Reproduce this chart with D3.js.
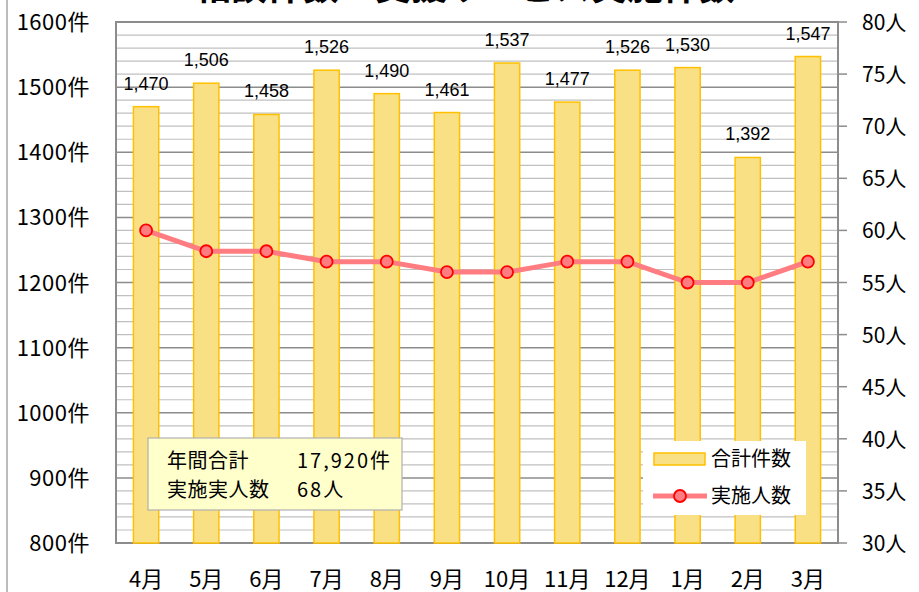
<!DOCTYPE html>
<html>
<head>
<meta charset="utf-8">
<script src="https://cdn.jsdelivr.net/npm/d3@7"></script>
<style>
  body { margin: 0; background: #fff; }
  svg { display: block; }
  text { font-family: "Noto Sans CJK JP", "Noto Sans", sans-serif; fill: #000; }
  .num { font-family: "Liberation Sans", "Noto Sans CJK JP", sans-serif; }
</style>
</head>
<body>
<div id="chart"></div>
<script>
// data
var months = ["4月", "5月", "6月", "7月", "8月", "9月", "10月", "11月", "12月", "1月", "2月", "3月"];
var totalCases = [1470, 1506, 1458, 1526, 1490, 1461, 1537, 1477, 1526, 1530, 1392, 1547];
var persons = [60, 58, 58, 57, 57, 56, 56, 57, 57, 55, 55, 57];
var leftTicks = [800, 900, 1000, 1100, 1200, 1300, 1400, 1500, 1600];
var rightTicks = [30, 35, 40, 45, 50, 55, 60, 65, 70, 75, 80];
var summaryLines = [["年間合計", "17,920件"], ["実施実人数", "68人"]];
var legendNames = ["合計件数", "実施人数"];
var titleText = "相談件数・支援サービス実施件数";

(function() {
  var width = 919,
      height = 592;

  var plotLeft = 116, plotRight = 838, plotTop = 22, plotBottom = 543;

  var svg = d3.select("#chart").append("svg")
      .attr("width", width)
      .attr("height", height);

  // outer frame edge
  svg.append("line")
    .attr("x1", 7).attr("x2", 7).attr("y1", 0).attr("y2", height)
    .attr("stroke", "#a6a6a6").attr("stroke-width", 1.5);

  // title, mostly cut off at the top
  svg.append("text")
    .attr("x", 465).attr("y", 0)
    .attr("text-anchor", "middle")
    .style("font-size", "36px")
    .style("font-weight", "bold")
    .text(titleText);

  var x = d3.scaleBand()
    .domain(months)
    .range([plotLeft, plotRight])
    .paddingInner(0.58)
    .paddingOuter(0.29);

  var yLeft = d3.scaleLinear().domain([800, 1600]).range([plotBottom, plotTop]);
  var yRight = d3.scaleLinear().domain([30, 80]).range([plotBottom, plotTop]);

  // gridlines, minor every 20件
  var minor = d3.range(800, 1601, 20);
  svg.selectAll(".grid")
    .data(minor)
    .enter().append("line")
    .attr("class", "grid")
    .attr("x1", plotLeft).attr("x2", plotRight)
    .attr("y1", function(d) { return yLeft(d); })
    .attr("y2", function(d) { return yLeft(d); })
    .attr("stroke", function(d) { return d % 100 === 0 ? "#8c8c8c" : "#c0c0c0"; })
    .attr("stroke-width", function(d) { return d % 100 === 0 ? 1.5 : 1.2; });

  // plot frame
  svg.append("rect")
    .attr("x", plotLeft).attr("y", plotTop)
    .attr("width", plotRight - plotLeft).attr("height", plotBottom - plotTop)
    .attr("fill", "none")
    .attr("stroke", "#8c8c8c")
    .attr("stroke-width", 2);

  // right axis tick marks
  svg.selectAll(".rtick")
    .data(rightTicks)
    .enter().append("line")
    .attr("x1", plotRight).attr("x2", plotRight + 9)
    .attr("y1", function(d) { return yRight(d); })
    .attr("y2", function(d) { return yRight(d); })
    .attr("stroke", "#8c8c8c").attr("stroke-width", 1.5);

  // bars
  svg.selectAll(".bar")
    .data(totalCases)
    .enter().append("rect")
    .attr("class", "bar")
    .attr("x", function(d, i) { return x(months[i]); })
    .attr("y", function(d) { return yLeft(d); })
    .attr("width", x.bandwidth())
    .attr("height", function(d) { return plotBottom - yLeft(d); })
    .attr("fill", "#fae085")
    .attr("stroke", "#ffc000")
    .attr("stroke-width", 1.5);

  // bar labels
  svg.selectAll(".bar-label")
    .data(totalCases)
    .enter().append("text")
    .attr("class", "bar-label num")
    .attr("x", function(d, i) { return x(months[i]) + x.bandwidth() / 2; })
    .attr("y", function(d) { return yLeft(d) - 17; })
    .attr("text-anchor", "middle")
    .style("font-size", "18px")
    .text(function(d) { return d3.format(",")(d); });

  // persons line
  var line = d3.line()
    .x(function(d, i) { return x(months[i]) + x.bandwidth() / 2; })
    .y(function(d) { return yRight(d); });

  svg.append("path")
    .datum(persons)
    .attr("d", line)
    .attr("fill", "none")
    .attr("stroke", "#ff7c80")
    .attr("stroke-width", 5);

  svg.selectAll(".dot")
    .data(persons)
    .enter().append("circle")
    .attr("class", "dot")
    .attr("cx", function(d, i) { return x(months[i]) + x.bandwidth() / 2; })
    .attr("cy", function(d) { return yRight(d); })
    .attr("r", 6)
    .attr("fill", "#ff7c80")
    .attr("stroke", "#ff0000")
    .attr("stroke-width", 1.8);

  // left axis labels
  svg.selectAll(".ltick")
    .data(leftTicks)
    .enter().append("text")
    .attr("x", 90)
    .attr("y", function(d) { return yLeft(d) + 8; })
    .attr("text-anchor", "end")
    .style("font-size", "22px")
    .style("letter-spacing", "0.5px")
    .text(function(d) { return d + "件"; });

  // right axis labels
  svg.selectAll(".rlabel")
    .data(rightTicks)
    .enter().append("text")
    .attr("x", 862)
    .attr("y", function(d) { return yRight(d) + 8; })
    .style("font-size", "21px")
    .text(function(d) { return d + "人"; });

  // month labels
  svg.selectAll(".mlabel")
    .data(months)
    .enter().append("text")
    .attr("x", function(d) { return x(d) + x.bandwidth() / 2; })
    .attr("y", 587)
    .attr("text-anchor", "middle")
    .style("font-size", "22px")
    .text(function(d) { return d; });

  // summary box
  var box = svg.append("g");
  box.append("rect")
    .attr("x", 148).attr("y", 438)
    .attr("width", 254).attr("height", 72)
    .attr("fill", "#ffffcc")
    .attr("stroke", "#b0b0b0")
    .attr("stroke-width", 1.2);
  box.selectAll(".sum")
    .data(summaryLines)
    .enter().append("g")
    .each(function(d, i) {
      var g = d3.select(this);
      g.append("text")
        .attr("x", 167).attr("y", 468 + i * 29)
        .style("font-size", "20px")
        .style("letter-spacing", "0.5px")
        .text(d[0]);
      g.append("text")
        .attr("x", 297).attr("y", 468 + i * 29)
        .style("font-size", "20px")
        .style("letter-spacing", "2px")
        .text(d[1]);
    });

  // legend
  var legend = svg.append("g");
  legend.append("rect")
    .attr("x", 643).attr("y", 441)
    .attr("width", 163).attr("height", 74)
    .attr("fill", "#fff");
  legend.append("rect")
    .attr("x", 654).attr("y", 453)
    .attr("width", 51).attr("height", 12)
    .attr("fill", "#fae085")
    .attr("stroke", "#ffc000")
    .attr("stroke-width", 1.5);
  legend.append("line")
    .attr("x1", 653).attr("x2", 707)
    .attr("y1", 496).attr("y2", 496)
    .attr("stroke", "#ff7c80").attr("stroke-width", 5);
  legend.append("circle")
    .attr("cx", 680).attr("cy", 496).attr("r", 6)
    .attr("fill", "#ff7c80").attr("stroke", "#ff0000").attr("stroke-width", 1.8);
  legend.selectAll(".ltext")
    .data(legendNames)
    .enter().append("text")
    .attr("x", 711)
    .attr("y", function(d, i) { return 466 + i * 37; })
    .style("font-size", "20px")
    .text(function(d) { return d; });
})();
</script>
</body>
</html>
